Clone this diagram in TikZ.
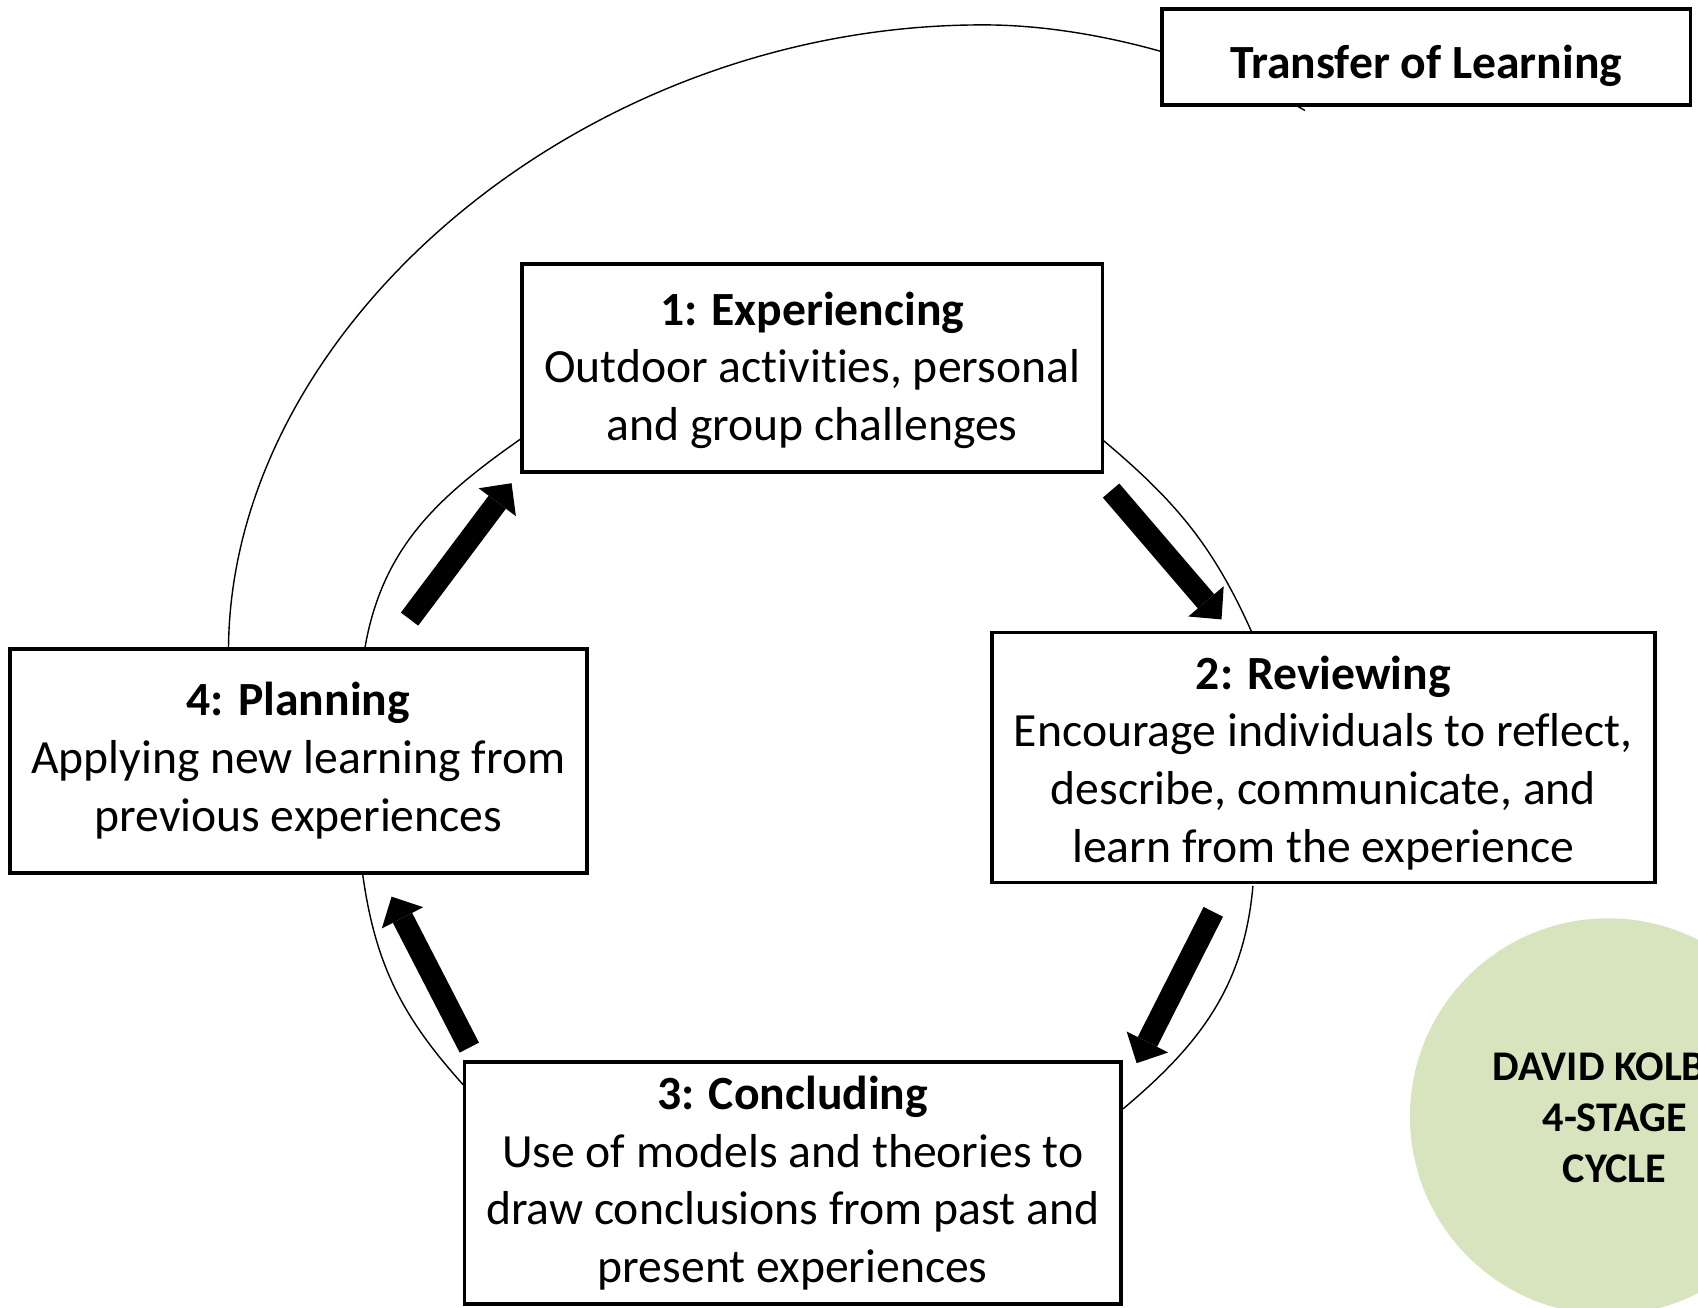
\documentclass[tikz,border=0pt]{standalone}
\usepackage{fontspec}
\setmainfont[Ligatures=NoCommon]{Carlito}
\usetikzlibrary{arrows.meta,shapes.geometric}
\definecolor{kolbgreen}{HTML}{D7E4BD}
\begin{document}
\begin{tikzpicture}[x=1pt,y=1pt,
  stagebox/.style={draw=black, line width=3.5pt, fill=white, inner sep=0pt},
  boxtext/.style={align=center, inner sep=0pt, font=\fontsize{44}{53.3}\selectfont},
  thinline/.style={draw=black, line width=1.3pt},
  blockarrow/.style={line width=20pt, -{Triangle[width=43pt,length=22pt,line width=0pt]}}]
\useasboundingbox (0,0) rectangle (1568,-1207);
% transfer arc (drawn behind the boxes)
\coordinate (ts) at (211,-599);
\coordinate (ttop) at (909,-23);
\coordinate (te) at (1205,-102);
\draw[thinline] (ts) .. controls (213,-300) and (540,-22) .. (ttop)
  .. controls (1010,-23) and (1130,-58) .. (te);
% cycle connectors
\coordinate (c1s) at (1018,-406); \coordinate (c1e) at (1156,-584);
\coordinate (c2s) at (1157,-818); \coordinate (c2e) at (1037,-1024);
\coordinate (c3s) at (428,-1002); \coordinate (c3e) at (335,-808);
\coordinate (c4s) at (337,-598);  \coordinate (c4e) at (482,-404.5);
\draw[thinline] (c1s) to[out=-40,in=114] (c1e);
\draw[thinline] (c2s) to[out=-95,in=40] (c2e);
\draw[thinline] (c3s) to[out=132,in=-82] (c3e);
\draw[thinline] (c4s) to[out=80,in=215] (c4e);
% boxes
\node[stagebox, minimum width=488, minimum height=89] (tl) at (1317,-52.5) {};
\node[boxtext] (tlt) at ([yshift=-8]tl.center) {\textbf{Transfer of Learning}};
\node[stagebox, minimum width=536, minimum height=192] (b1) at (750,-340) {};
\node[boxtext] (b1t) at ([yshift=-2]b1.center)
  {\textbf{1: Experiencing}\\Outdoor activities, personal\\and group challenges};
\node[stagebox, minimum width=612, minimum height=231] (b2) at (1222,-699.5) {};
\node[boxtext] (b2t) at ([yshift=-5]b2.center)
  {\textbf{2: Reviewing}\\Encourage individuals to reflect,\\describe, communicate, and\\learn from the experience};
\node[stagebox, minimum width=606, minimum height=223] (b3) at (732,-1092.5) {};
\node[boxtext] (b3t) at (b3.center)
  {\textbf{3: Concluding}\\Use of models and theories to\\draw conclusions from past and\\present experiences};
\node[stagebox, minimum width=533, minimum height=207] (b4) at (275.5,-702.5) {};
\node[boxtext] (b4t) at (b4.center)
  {\textbf{4: Planning}\\Applying new learning from\\previous experiences};
% block arrows
\coordinate (a1s) at (1026,-453);   \coordinate (a1e) at (1128,-572);
\coordinate (a2s) at (1120.4,-842); \coordinate (a2e) at (1049.6,-981.8);
\coordinate (a3s) at (433.4,-967.4); \coordinate (a3e) at (361.6,-828);
\coordinate (a4s) at (378.2,-571.7); \coordinate (a4e) at (472.4,-446.2);
\draw[blockarrow] (a1s) -- (a1e);
\draw[blockarrow] (a2s) -- (a2e);
\draw[blockarrow] (a3s) -- (a3e);
\draw[blockarrow] (a4s) -- (a4e);
% Kolb circle
\node[circle, fill=kolbgreen, draw=none, minimum size=366, inner sep=0pt] (kolb) at (1485,-1031) {};
\node[align=center, inner sep=0pt, font=\bfseries\fontsize{39}{47}\selectfont] (kolbtext) at (1491,-1031)
  {DAVID KOLB\phantom{'S}\\4-STAGE\\CYCLE};
\end{tikzpicture}
\end{document}
